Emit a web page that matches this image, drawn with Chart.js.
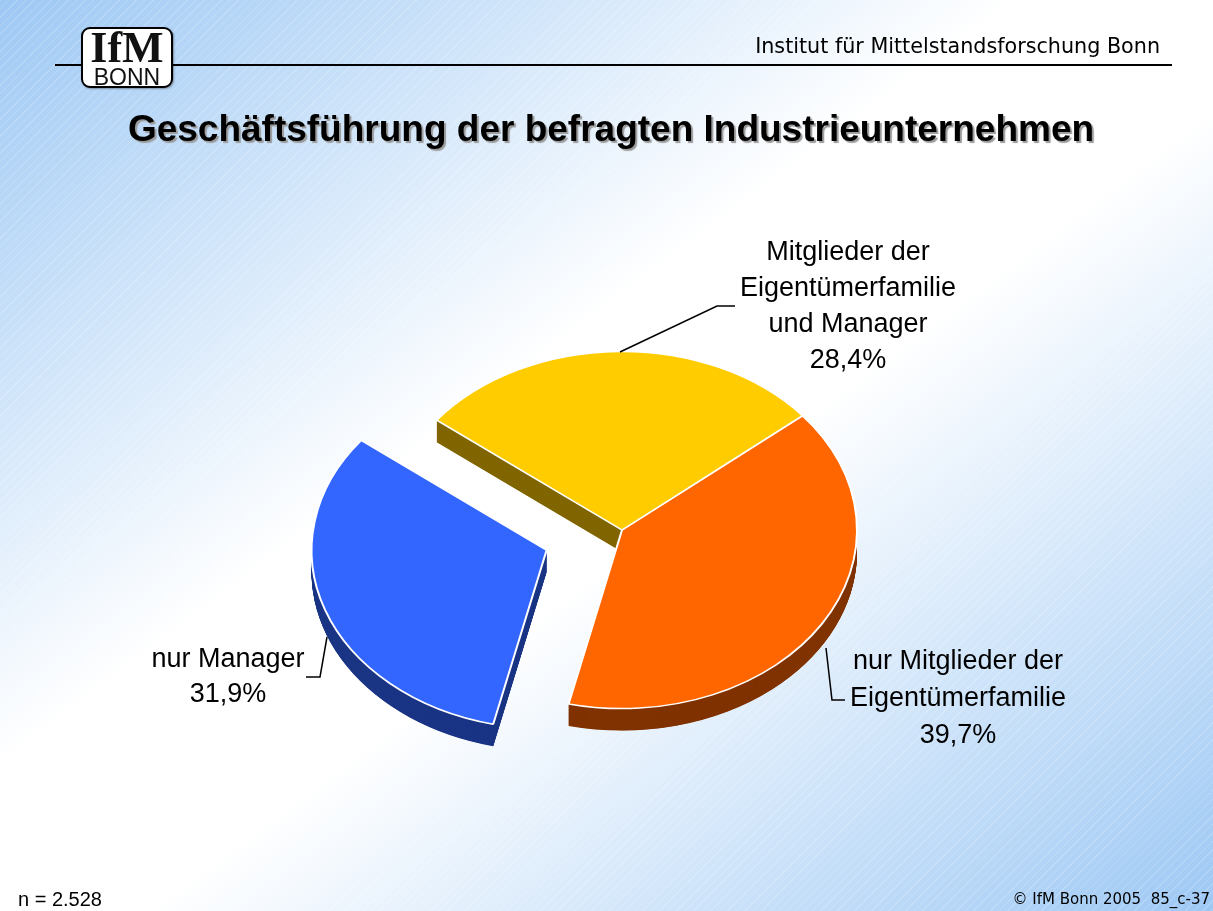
<!DOCTYPE html>
<html lang="de">
<head>
<meta charset="utf-8">
<title>Geschäftsführung der befragten Industrieunternehmen</title>
<script src="https://cdn.jsdelivr.net/npm/chart.js@4.4.1/dist/chart.umd.min.js"></script>
<style>
  html, body { margin: 0; padding: 0; }
  body {
    width: 1213px; height: 911px; position: relative; overflow: hidden;
    background: linear-gradient(to bottom right, #9dc8f4 0%, #ffffff 42%, #ffffff 56%, #9dc8f4 100%);
    font-family: "Liberation Sans", Arial, sans-serif;
  }
  .hatch {
    position: absolute; left: 0; top: 0; width: 100%; height: 100%;
    background: repeating-linear-gradient(135deg, rgba(255,255,255,0.18) 0 1px, transparent 1px 6px);
  }
  #pie { position: absolute; left: 0; top: 0; }
  .rule { position: absolute; left: 55px; top: 64px; width: 1117px; height: 2px; background: #000; }
  .logo {
    position: absolute; left: 81px; top: 27px; width: 88px; height: 57px;
    border: 2px solid #000; border-radius: 9px; background: #fff;
    box-shadow: 1px 1px 2px rgba(0,0,0,0.35);
  }
  .logo .ifm {
    position: absolute; left: 0; width: 100%; top: -3px; text-align: center;
    font-family: "Liberation Serif", "DejaVu Serif", serif; font-weight: bold;
    font-size: 44px; line-height: 1; color: #111;
  }
  .logo .bonn {
    position: absolute; left: 0; width: 100%; top: 37px; text-align: center;
    font-size: 23px; line-height: 1; color: #111;
  }
  .inst {
    position: absolute; right: 53px; top: 34px;
    font-family: "DejaVu Sans", sans-serif; font-size: 20.7px; color: #000;
  }
  h1 {
    position: absolute; left: 0; width: 1222px; top: 108px; margin: 0; text-align: center;
    font-size: 37px; font-weight: bold; color: #000; line-height: 42px;
    text-shadow: 2px 2px 1px #9a9a9a;
  }
  .n { position: absolute; left: 18px; top: 888px; font-size: 20px; color: #000; }
  .copy {
    position: absolute; right: 3px; top: 890px;
    font-family: "DejaVu Sans", sans-serif; font-size: 15px; color: #000; white-space: pre;
  }
</style>
</head>
<body>
<div class="hatch"></div>
<canvas id="pie" width="1213" height="911"></canvas>
<div class="rule"></div>
<div class="logo"><div class="ifm">IfM</div><div class="bonn">BONN</div></div>
<div class="inst">Institut für Mittelstandsforschung Bonn</div>
<h1>Geschäftsführung der befragten Industrieunternehmen</h1>
<div class="n">n = 2.528</div>
<div class="copy">© IfM Bonn 2005  85_c-37</div>

<script>
// Anteile in Prozent, im Uhrzeigersinn ab rechts oben
const categories = ['nur Mitglieder der Eigentümerfamilie', 'nur Manager', 'Mitglieder der Eigentümerfamilie und Manager'];
const shares = [39.7, 31.9, 28.4];
const labelLines = [
  ['nur Mitglieder der', 'Eigentümerfamilie'],
  ['nur Manager'],
  ['Mitglieder der', 'Eigentümerfamilie', 'und Manager']
];
const topColors = ['#FF6600', '#3366FF', '#FFCC00'];
const sideColors = ['#803300', '#1B3585', '#806600'];
const explodePx = [0, 80, 0];   // how far a slice is pulled out

const TILT = 0.76;   // vertical squash of the pie
const DEPTH = 22;    // thickness in screen pixels

// where each label block and its leader line sit
const labelLayout = [
  { x: 958, y: 662, lh: 37, leader: [[826, 648], [832, 700], [845, 700]] },
  { x: 228, y: 660, lh: 35, leader: [[306, 677], [320, 677], [327, 637]] },
  { x: 848, y: 253, lh: 35.7, leader: [[620, 352], [717, 306], [735, 306]] }
];

const fmtPct = v => v.toFixed(1).replace('.', ',') + '%';

// squash the pie into an ellipse, pull out slices and extrude it downwards
const pie3d = {
  id: 'pie3d',
  beforeDatasetsDraw(chart) {
    const ctx = chart.ctx;
    const arcs = chart.getDatasetMeta(0).data;
    const cx = arcs[0].x, cy = arcs[0].y;
    arcs.forEach((arc, i) => {
      const mid = (arc.startAngle + arc.endAngle) / 2;
      arc._home = [arc.x, arc.y];
      arc.x += Math.cos(mid) * explodePx[i];
      arc.y += Math.sin(mid) * explodePx[i];
    });
    ctx.save();
    ctx.translate(cx, cy);
    ctx.scale(1, TILT);
    ctx.translate(-cx, -cy);
    const depth = DEPTH / TILT;
    for (let d = depth; d > 0; d -= 0.5) {
      arcs.forEach((arc, i) => {
        ctx.beginPath();
        ctx.moveTo(arc.x, arc.y + d);
        ctx.arc(arc.x, arc.y + d, arc.outerRadius, arc.startAngle, arc.endAngle);
        ctx.closePath();
        ctx.fillStyle = sideColors[i];
        ctx.fill();
      });
    }
  },
  afterDatasetsDraw(chart) {
    chart.ctx.restore();
    chart.getDatasetMeta(0).data.forEach(arc => {
      [arc.x, arc.y] = arc._home;
    });
  }
};

const sliceLabels = {
  id: 'sliceLabels',
  afterDraw(chart) {
    const ctx = chart.ctx;
    ctx.save();
    ctx.font = '27px "Liberation Sans", Arial, sans-serif';
    ctx.fillStyle = '#000';
    ctx.textAlign = 'center';
    ctx.textBaseline = 'middle';
    labelLayout.forEach((l, i) => {
      const lines = labelLines[i].concat(fmtPct(shares[i]));
      lines.forEach((t, k) => ctx.fillText(t, l.x, l.y + k * l.lh));
      ctx.beginPath();
      l.leader.forEach(([px, py], k) => k ? ctx.lineTo(px, py) : ctx.moveTo(px, py));
      ctx.lineWidth = 1.5;
      ctx.strokeStyle = '#000';
      ctx.stroke();
    });
    ctx.restore();
  }
};

new Chart(document.getElementById('pie'), {
  type: 'pie',
  data: {
    labels: categories,
    datasets: [{
      data: shares,
      backgroundColor: topColors,
      borderColor: '#ffffff',
      borderWidth: 2,
      hoverOffset: 0
    }]
  },
  options: {
    responsive: false,
    devicePixelRatio: 1,
    animation: false,
    events: [],
    rotation: 50.2,
    radius: 235,
    layout: { padding: { left: 31, top: 149, right: 0, bottom: 0 } },
    plugins: {
      legend: { display: false },
      tooltip: { enabled: false },
      title: { display: false }
    }
  },
  plugins: [pie3d, sliceLabels]
});
</script>
</body>
</html>
